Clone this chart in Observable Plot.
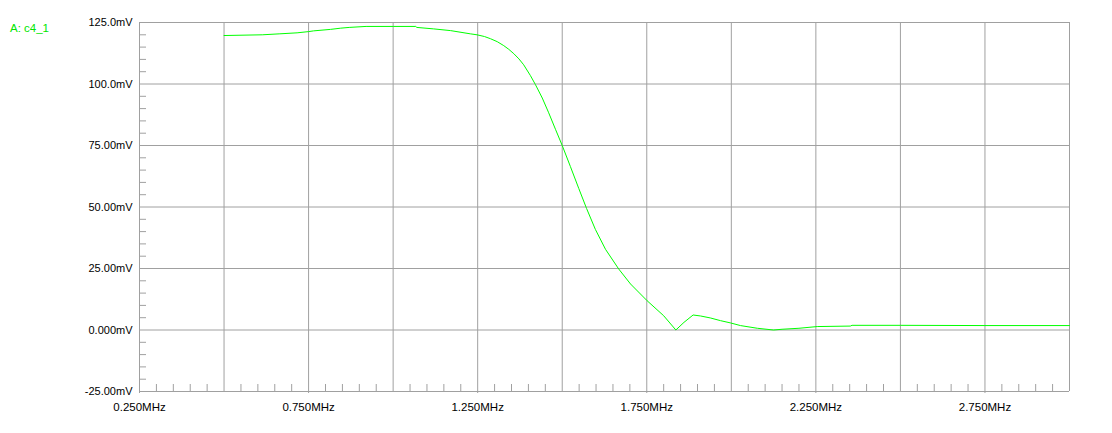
<!DOCTYPE html>
<html>
<head>
<meta charset="utf-8">
<script src="https://cdn.jsdelivr.net/npm/d3@7"></script>
<script src="https://cdn.jsdelivr.net/npm/@observablehq/plot@0.6"></script>
<style>
  html, body { margin: 0; padding: 0; background: #fff; }
  #wrap { position: relative; width: 1112px; height: 433px; }
  #legend { position: absolute; left: 10px; top: 22px; font: 11.5px "Liberation Sans", Arial, sans-serif; color: #00e600; }
  svg text { font-family: "Liberation Sans", Arial, sans-serif; }
</style>
</head>
<body>
<div id="wrap"><div id="legend">A: c4_1</div></div>
<script>
// Frequency (MHz) and amplitude (mV)
const freqMHz = [0.5, 0.613, 0.665, 0.716, 0.75, 0.765, 0.815, 0.845, 0.87, 0.92, 1.0, 1.067, 1.07, 1.12, 1.17, 1.228, 1.248, 1.27, 1.288, 1.308, 1.327, 1.342, 1.357, 1.372, 1.386, 1.406, 1.421, 1.441, 1.46, 1.48, 1.5, 1.524, 1.549, 1.572, 1.598, 1.628, 1.667, 1.702, 1.751, 1.8, 1.836, 1.86, 1.887, 1.909, 1.938, 1.968, 1.997, 2.027, 2.077, 2.125, 2.15, 2.2, 2.254, 2.352, 2.357, 2.5, 2.75, 3.0];
const voltage_mV = [119.7, 120.0, 120.4, 120.8, 121.3, 121.6, 122.2, 122.7, 123.0, 123.4, 123.4, 123.4, 123.0, 122.4, 121.7, 120.4, 120.0, 119.3, 118.4, 117.2, 115.6, 114.1, 112.3, 110.2, 107.8, 103.4, 99.7, 94.3, 88.3, 81.6, 75.0, 66.5, 57.5, 49.4, 40.9, 32.8, 24.8, 18.7, 11.9, 5.8, 0.0, 3.1, 6.1, 5.7, 4.9, 3.8, 2.9, 1.8, 0.7, 0.0, 0.3, 0.7, 1.4, 1.6, 1.9, 1.9, 1.8, 1.8];

const xDomain = [0.25, 3.0];
const yDomain = [-25, 125];
const xGrid = [0.25, 0.5, 0.75, 1.0, 1.25, 1.5, 1.75, 2.0, 2.25, 2.5, 2.75, 3.0];
const yGrid = [-25, 0, 25, 50, 75, 100, 125];
const xTickValues = [0.25, 0.75, 1.25, 1.75, 2.25, 2.75];
const xTickLabels = ["0.250MHz", "0.750MHz", "1.250MHz", "1.750MHz", "2.250MHz", "2.750MHz"];
const yTickValues = [125, 100, 75, 50, 25, 0, -25];
const yTickLabels = ["125.0mV", "100.0mV", "75.00mV", "50.00mV", "25.00mV", "0.000mV", "-25.00mV"];
const xMinor = d3.range(0, 55).map(i => +(0.25 + i * 0.05).toFixed(2)).filter(v => Math.round(v * 100) % 25 !== 0);
const yMinor = d3.range(-25, 126, 5).filter(v => v % 25 !== 0);

const data = freqMHz.map((f, i) => ({f, v: voltage_mV[i]}));
const xLab = new Map(xTickValues.map((v, i) => [v, xTickLabels[i]]));
const yLab = new Map(yTickValues.map((v, i) => [v, yTickLabels[i]]));

const grid = "#a0a0a0";
const chart = Plot.plot({
  width: 1112,
  height: 433,
  marginLeft: 139,
  marginRight: 43,
  marginTop: 22,
  marginBottom: 42,
  style: {fontSize: "11px", fontFamily: "'Liberation Sans', Arial, sans-serif", color: "#000", background: "#fff"},
  x: {domain: xDomain},
  y: {domain: yDomain},
  marks: [
    Plot.ruleX(xGrid, {stroke: grid, strokeWidth: 1}),
    Plot.ruleY(yGrid, {stroke: grid, strokeWidth: 1}),
    Plot.ruleY(yMinor, {x1: xDomain[0], x2: xDomain[0], insetRight: -7, stroke: grid}),
    Plot.ruleX(xMinor, {y1: yDomain[0], y2: yDomain[0], insetTop: -7, stroke: grid}),
    Plot.axisX(xTickValues, {tickSize: 2, tickPadding: 9, stroke: grid, tickFormat: d => xLab.get(d), fill: "#000", fontSize: 11.5, label: null}),
    Plot.axisY(yTickValues, {tickSize: 0, tickPadding: 7, tickFormat: d => yLab.get(d), fill: "#000", fontSize: 11, label: null}),
    Plot.line(data, {x: "f", y: "v", stroke: "#00ff00", strokeWidth: 1})
  ]
});
document.getElementById("wrap").prepend(chart);
</script>
</body>
</html>
